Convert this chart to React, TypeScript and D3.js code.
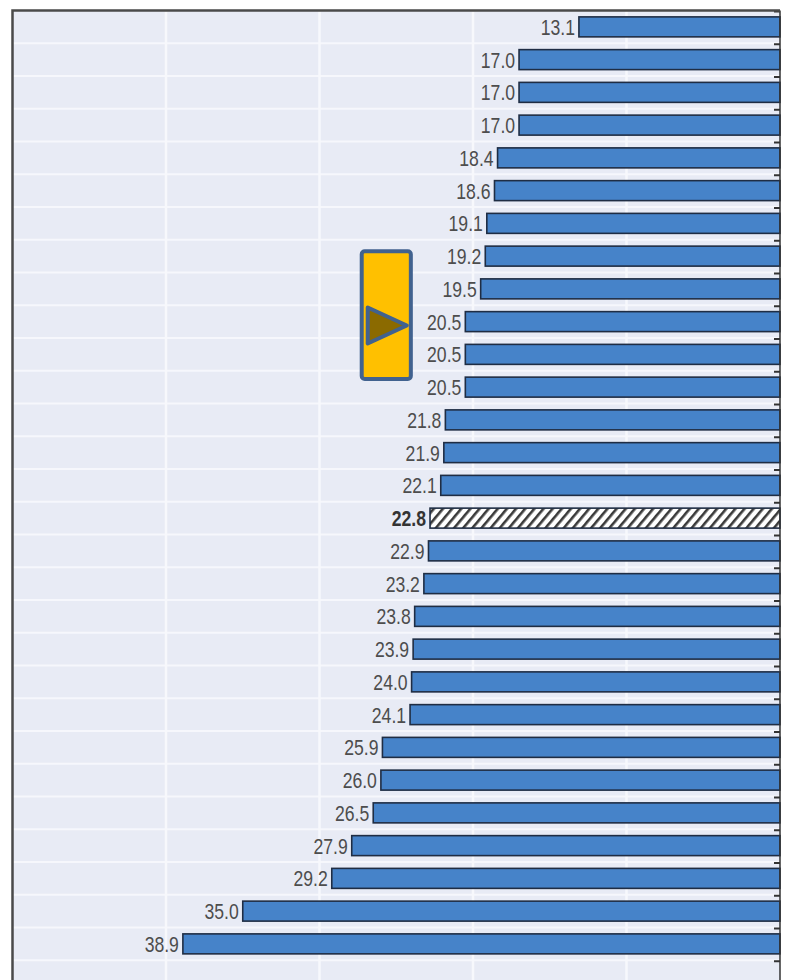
import React from "react";
import * as d3 from "d3";

const values: number[] = [13.1, 17.0, 17.0, 17.0, 18.4, 18.6, 19.1, 19.2, 19.5, 20.5, 20.5, 20.5, 21.8, 21.9, 22.1, 22.8, 22.9, 23.2, 23.8, 23.9, 24.0, 24.1, 25.9, 26.0, 26.5, 27.9, 29.2, 35.0, 38.9];
const highlighted: number[] = [15];
const gridValues: number[] = [10, 20, 30, 40];
// annotation marker (in data units): spans values 24..27.3, rows 7.35..11.25
const markerRange: [number, number] = [24.05, 27.25];
const markerRows: [number, number] = [7.35, 11.25];
const markerTipRow = 9.3;

const W = 788;
const H = 980;
const RIGHT = 780;
const LEFT = 12.5;
const TOP = 10.5;
const STEP = 32.75;

export default function App() {
  const x = d3.scaleLinear().domain([0, 50]).range([RIGHT, LEFT]);
  const idx = values.map((_, i) => i);
  const y = d3
    .scaleBand<number>()
    .domain(idx)
    .range([TOP, TOP + values.length * STEP])
    .paddingInner(0.39)
    .paddingOuter(0.195);
  const rowY = (r: number) => TOP + r * STEP;
  const boundaries = d3.range(0, 32).map((i) => rowY(i)).filter((v) => v <= H);

  const mx0 = x(markerRange[1]);
  const mx1 = x(markerRange[0]);
  const my0 = rowY(markerRows[0]);
  const my1 = rowY(markerRows[1]);
  const tipY = rowY(markerTipRow + 0.5) - 6;

  return (
    <svg
      width={W}
      height={H}
      style={{ position: "absolute", left: 0, top: 0, background: "#fff" }}
      fontFamily="'Liberation Sans Narrow', 'Arial Narrow', 'Liberation Sans', sans-serif"
    >
      <defs>
        <pattern id="hatch" width="7" height="7" patternUnits="userSpaceOnUse" patternTransform="rotate(40)">
          <rect width="7" height="7" fill="#ffffff" />
          <rect width="2.6" height="7" fill="#3a3a3a" />
        </pattern>
        <clipPath id="plot">
          <rect x={LEFT} y={TOP} width={RIGHT - LEFT} height={H - TOP} />
        </clipPath>
      </defs>
      <rect x={LEFT} y={TOP} width={RIGHT - LEFT} height={H - TOP} fill="#e8ebf5" />
      <g clipPath="url(#plot)">
        {boundaries.map((b, i) => (
          <line key={"h" + i} x1={LEFT} x2={RIGHT} y1={b} y2={b} stroke="#f6f7fc" strokeWidth={2} />
        ))}
        {gridValues.map((g) => (
          <line key={"g" + g} x1={x(g)} x2={x(g)} y1={TOP} y2={H} stroke="#f7f8fc" strokeWidth={2.5} />
        ))}
      </g>
      {values.map((v, i) => {
        const hl = highlighted.includes(i);
        const by = y(i)!;
        const bh = y.bandwidth();
        return (
          <g key={"b" + i}>
            <rect
              x={x(v)}
              y={by}
              width={RIGHT - x(v)}
              height={bh}
              fill={hl ? "url(#hatch)" : "#4683c9"}
              stroke="#1f2d44"
              strokeWidth={1.6}
            />
            <text
              transform={`translate(${x(v) - 4},${by + bh / 2}) scale(0.8,1)`}
              dy="0.36em"
              textAnchor="end"
              fontSize={22}
              fontWeight={hl ? "bold" : "normal"}
              fill={hl ? "#333" : "#4d4d4d"}
            >
              {v.toFixed(1)}
            </text>
          </g>
        );
      })}
      {boundaries.map((b, i) => (
        <line key={"t" + i} x1={RIGHT - 6} x2={RIGHT} y1={b + 1} y2={b + 1} stroke="#333" strokeWidth={2} />
      ))}
      <line x1={RIGHT} x2={RIGHT} y1={TOP} y2={H} stroke="#333" strokeWidth={1.5} />
      <path d={`M${LEFT},${H} V${TOP} H${RIGHT}`} fill="none" stroke="#4a4a4a" strokeWidth={2.5} />
      <rect x={mx0} y={my0} width={mx1 - mx0} height={my1 - my0} rx={3} fill="#ffc000" stroke="#41628f" strokeWidth={4} />
      <path
        d={`M${mx0 + 6},${tipY - 18} L${mx1 - 4},${tipY} L${mx0 + 6},${tipY + 18} Z`}
        fill="#8b6a00"
        stroke="#41628f"
        strokeWidth={4}
        strokeLinejoin="round"
      />
    </svg>
  );
}
